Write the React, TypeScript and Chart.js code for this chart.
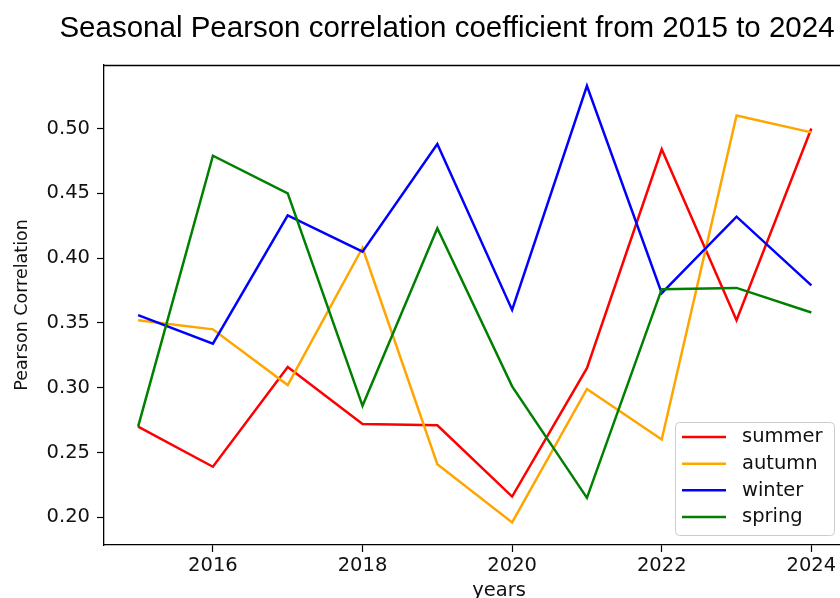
import React, { useEffect, useRef } from "react";
import { Chart, registerables } from "chart.js";

Chart.register(...registerables);

const TITLE = "Seasonal Pearson correlation coefficient from 2015 to 2024";
const X_LABEL = "years";
const Y_LABEL = "Pearson Correlation";

const years = [2015, 2016, 2017, 2018, 2019, 2020, 2021, 2022, 2023, 2024];
const summer = [0.270, 0.239, 0.316, 0.272, 0.271, 0.216, 0.315, 0.484, 0.352, 0.500];
const autumn = [0.352, 0.345, 0.302, 0.408, 0.241, 0.196, 0.299, 0.260, 0.510, 0.497];
const winter = [0.356, 0.334, 0.433, 0.405, 0.488, 0.360, 0.533, 0.373, 0.432, 0.379];
const spring = [0.270, 0.479, 0.450, 0.286, 0.423, 0.301, 0.215, 0.376, 0.377, 0.358];

const seriesNames = ["summer", "autumn", "winter", "spring"];
const seriesValues = [summer, autumn, winter, spring];
const seriesColors = ["#ff0000", "#ffa500", "#0000ff", "#008000"];

const xTicks = [2016, 2018, 2020, 2022, 2024];
const yTicks = [0.2, 0.25, 0.3, 0.35, 0.4, 0.45, 0.5];

const X_MIN = 2014.544;
const X_MAX = 2025.105;
const Y_MIN = 0.1786;
const Y_MAX = 0.549;

const W = 894;
const H = 604;
const TEXT = "#111";
const FONT = "DejaVu Sans";

const framePlugin = {
  id: "frameTop",
  afterDraw(chart: any) {
    const { ctx, chartArea } = chart;
    ctx.save();
    ctx.strokeStyle = "#000";
    ctx.lineWidth = 1.3;
    ctx.beginPath();
    ctx.moveTo(chartArea.left, Math.round(chartArea.top) + 0.5);
    ctx.lineTo(chartArea.right, Math.round(chartArea.top) + 0.5);
    ctx.stroke();
    ctx.restore();
  },
};

const legendPlugin = {
  id: "mplLegend",
  afterDraw(chart: any) {
    const { ctx, chartArea } = chart;
    const boxW = 159;
    const boxH = 113;
    const left = chartArea.left + 571;
    const top = chartArea.bottom - 10 - boxH;
    ctx.save();
    ctx.beginPath();
    (ctx as any).roundRect(left + 0.5, top + 0.5, boxW, boxH, 4);
    ctx.fillStyle = "rgba(255,255,255,0.8)";
    ctx.fill();
    ctx.strokeStyle = "#cccccc";
    ctx.lineWidth = 1;
    ctx.stroke();
    const rowH = 26.67;
    const firstRow = top + 15;
    ctx.font = `19.5px "${FONT}"`;
    ctx.textAlign = "left";
    ctx.textBaseline = "alphabetic";
    seriesNames.forEach((name, i) => {
      const y = firstRow + i * rowH;
      ctx.strokeStyle = seriesColors[i];
      ctx.lineWidth = 2.5;
      ctx.beginPath();
      ctx.moveTo(left + 7, y);
      ctx.lineTo(left + 51, y);
      ctx.stroke();
      ctx.fillStyle = TEXT;
      ctx.fillText(name, left + 67, y + 5.3);
    });
    ctx.restore();
  },
};

export default function App() {
  const ref = useRef<HTMLCanvasElement | null>(null);

  useEffect(() => {
    const canvas = ref.current;
    if (!canvas) return;
    document.body.style.margin = "0";
    const datasets = seriesNames.map((name, i) => ({
      label: name,
      data: years.map((x, j) => ({ x, y: seriesValues[i][j] })),
      borderColor: seriesColors[i],
      backgroundColor: seriesColors[i],
      borderWidth: 2.5,
      pointRadius: 0,
      pointHoverRadius: 0,
      tension: 0,
      fill: false,
      order: seriesNames.length - 1 - i,
    }));

    const chart = new Chart(canvas, {
      type: "line",
      data: { datasets },
      plugins: [framePlugin, legendPlugin],
      options: {
        animation: false,
        responsive: false,
        devicePixelRatio: 1,
        layout: { padding: 0 },
        font: { family: FONT } as any,
        plugins: {
          legend: { display: false },
          tooltip: { enabled: false },
          title: {
            display: true,
            text: TITLE,
            color: "#000",
            font: { family: "Liberation Sans", size: 29.5, weight: "normal" as any, lineHeight: 1.2 },
            padding: { top: 11, bottom: 18.6 },
          },
        },
        scales: {
          x: {
            type: "linear",
            min: X_MIN,
            max: X_MAX,
            afterBuildTicks: (scale: any) => {
              scale.ticks = xTicks.map((v) => ({ value: v }));
            },
            afterFit: (scale: any) => {
              scale.height = 59;
            },
            grid: {
              display: true,
              drawOnChartArea: false,
              drawTicks: true,
              tickLength: 7,
              tickWidth: 1.2,
              tickColor: "#000",
            },
            border: { display: true, color: "#000", width: 1.3 },
            ticks: {
              color: TEXT,
              padding: 2,
              maxRotation: 0,
              autoSkip: false,
              font: { family: FONT, size: 19.5 },
              callback: (v: any) => String(v),
            },
            title: {
              display: true,
              text: X_LABEL,
              color: TEXT,
              font: { family: FONT, size: 19.5 },
              padding: { top: 0, bottom: 1 },
            },
          },
          y: {
            type: "linear",
            min: Y_MIN,
            max: Y_MAX,
            afterBuildTicks: (scale: any) => {
              scale.ticks = yTicks.map((v) => ({ value: v }));
            },
            afterFit: (scale: any) => {
              scale.width = 104;
            },
            grid: {
              display: true,
              drawOnChartArea: false,
              drawTicks: true,
              tickLength: 7,
              tickWidth: 1.2,
              tickColor: "#000",
            },
            border: { display: true, color: "#000", width: 1.3 },
            ticks: {
              color: TEXT,
              padding: 7,
              autoSkip: false,
              font: { family: FONT, size: 19.5 },
              callback: (v: any) => Number(v).toFixed(2),
            },
            title: {
              display: true,
              text: Y_LABEL,
              color: TEXT,
              font: { family: FONT, size: 17.5 },
              padding: { top: 12, bottom: 4 },
            },
          },
        },
      },
    });

    return () => chart.destroy();
  }, []);

  return (
    <div
      style={{
        position: "fixed",
        left: 0,
        top: 0,
        width: 840,
        height: 598,
        overflow: "hidden",
        background: "#fff",
      }}
    >
      <canvas ref={ref} width={W} height={H} style={{ display: "block", width: W, height: H }} />
    </div>
  );
}
